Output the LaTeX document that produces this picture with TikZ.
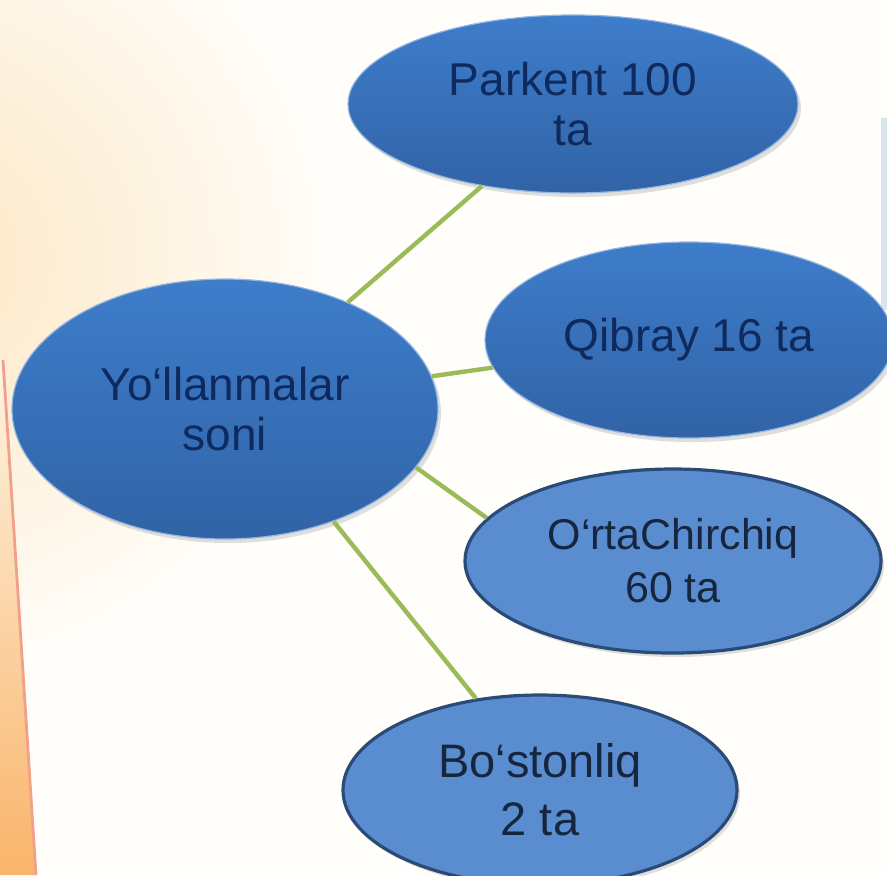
\documentclass[tikz,border=0pt]{standalone}
\usepackage{fontspec}
\setmainfont{Liberation Sans}
\usepackage{tikz}
\usetikzlibrary{shapes.geometric,shadows}
\definecolor{paper}   {HTML}{FFFEFA}
\definecolor{peach}   {HTML}{FCE6C2}
\definecolor{flame}   {HTML}{F9B46A}
\definecolor{salmon}  {HTML}{F3A08A}
\definecolor{glass}   {HTML}{C6DCE6}
\definecolor{branch}  {HTML}{9BBB59}
\definecolor{deep}    {HTML}{3E7DCB}
\definecolor{deepdark}{HTML}{3163A6}
\definecolor{pale}    {HTML}{5A8DD0}
\definecolor{rim}     {HTML}{2A4A77}
\definecolor{ink}     {HTML}{0E2A5E}
\definecolor{inkgrey} {HTML}{17263F}

\begin{document}
\begin{tikzpicture}[x=0.5pt,y=-0.5pt,
  bubble/.style={ellipse,inner sep=0pt,align=center,
    font=\fontsize{23}{25}\selectfont,
    drop shadow={opacity=0.25,shadow xshift=1.5pt,shadow yshift=-2pt}},
  darkbubble/.style={bubble,top color=deep,bottom color=deepdark,
    draw=deep!55!white,line width=0.6pt,text=ink},
  palebubble/.style={bubble,fill=pale,draw=rim,line width=1.6pt,text=inkgrey},
  link/.style={color=branch,line width=2.2pt}]
  \useasboundingbox (0,0) rectangle (887,875);
  % backdrop
  \fill[paper] (0,0) rectangle (887,875);
  \begin{scope}
    \clip (0,0) rectangle (887,875);
    \shade[inner color=peach,outer color=paper] (-80,260) circle (420);
  \end{scope}
  \shade[top color=peach!40!paper,bottom color=flame] (0,360) -- (3,360) -- (36,875) -- (0,875) -- cycle;
  \draw[color=salmon,line width=1.4pt] (3,360) -- (36,875);
  \fill[color=glass,opacity=0.7] (881,118) rectangle (887,310);

  \node[darkbubble,minimum width=213pt,minimum height=130pt] (yol) at (225,409)
       {Yo‘llanmalar\\soni};
  \node[darkbubble,minimum width=225pt,minimum height=89pt] (parkent) at (573,104)
       {Parkent 100\\ta};
  \node[darkbubble,minimum width=204pt,minimum height=98pt] (qibray) at (689,340)
       {Qibray 16 ta};
  \node[palebubble,minimum width=208pt,minimum height=92pt,
        font=\fontsize{21.5}{26.5}\selectfont] (orta) at (673,561)
       {O‘rtaChirchiq\\60 ta};
  \node[palebubble,minimum width=197pt,minimum height=95pt,
        font=\fontsize{23.5}{29}\selectfont] (boston) at (540,790)
       {Bo‘stonliq\\2 ta};

  \draw[link] (yol.41) -- (parkent.222);
  \draw[link] (yol.9) -- (qibray.188);
  \draw[link] (yol.-17) -- (orta.167);
  \draw[link] (yol.-46) -- (boston.125);
\end{tikzpicture}
\end{document}
